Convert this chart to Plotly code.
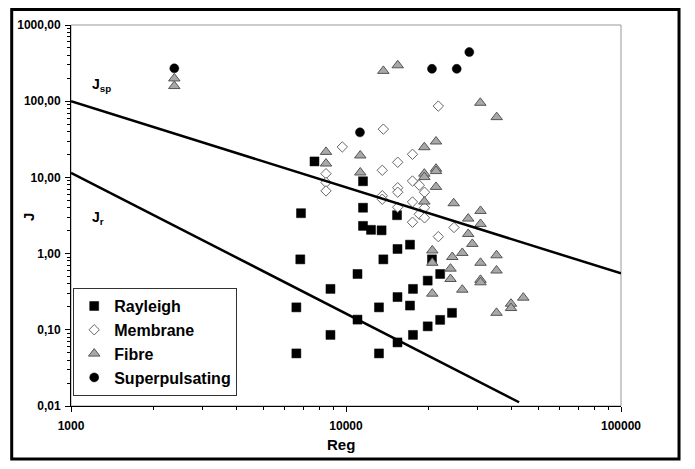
import plotly.graph_objects as go

# ---------------- data ----------------
rayleigh_x = [7680, 11530, 6860, 11530, 11530, 12330, 13470, 15330, 6820, 8780, 6600, 8780, 6600,
              13670, 11010, 13180, 11010, 13180, 15390, 17090, 15390, 17090, 17520, 19820, 20540,
              22000, 15390, 17520, 19820, 22000, 24290]
rayleigh_y = [16.2, 8.9, 3.39, 4.0, 2.31, 2.05, 2.02, 3.19, 0.84, 0.344, 0.197, 0.0857, 0.049,
              0.84, 0.54, 0.197, 0.136, 0.049, 1.15, 1.31, 0.269, 0.208, 0.344, 0.442, 0.84,
              0.54, 0.0683, 0.0857, 0.111, 0.135, 0.167]

membrane_x = [8459, 8459, 8459, 9694, 13670, 21660, 13550, 15420, 17450, 15420, 15420, 13550,
              13550, 17450, 18470, 19300, 17450, 19300, 18470, 19300, 17450, 24700, 21660, 15420]
membrane_y = [11.2, 8.57, 6.65, 25.1, 43.0, 86.3, 12.4, 15.8, 20.1, 7.32, 6.39, 5.75,
              5.17, 8.97, 7.90, 6.39, 4.76, 4.0, 3.28, 2.95, 2.58, 2.20, 1.67, 4.06]

fibre_x = [2375, 2375, 8459, 8459, 13670, 15420, 30790, 35320, 11270, 11270, 19270, 21250,
           19270, 19270, 21250, 21250, 21250, 19270, 24640, 27820, 30840, 30840, 27820, 28800,
           20600, 20600, 24350, 26480, 35270, 30840, 23990, 35270, 23990, 30840, 30840, 26480,
           20600, 44130, 39810, 39810, 35270]
fibre_y = [199, 158, 21.6, 15.2, 250, 296, 95.3, 61.8, 19.4, 11.6, 24.9, 29.6,
           11.2, 10.1, 13.0, 12.1, 7.5, 4.82, 4.58, 2.88, 3.63, 2.45, 1.81, 1.34,
           1.10, 0.757, 0.902, 1.02, 0.95, 0.757, 0.635, 0.60, 0.464, 0.453, 0.42, 0.336,
           0.298, 0.264, 0.22, 0.193, 0.167]

super_x = [2375, 11240, 20540, 25270, 28080]
super_y = [270, 39.0, 266, 266, 441]

jsp_x = [1000, 100000]
jsp_y = [100, 0.55]
jr_x = [1000, 42600]
jr_y = [11.5, 0.0112]

x_ticks = [1000, 10000, 100000]
x_ticktext = ["1000", "10000", "100000"]
y_ticks = [0.01, 0.1, 1, 10, 100, 1000]
y_ticktext = ["0,01", "0,10", "1,00", "10,00", "100,00", "1000,00"]

FONT = "Liberation Sans, Arial, sans-serif"

fig = go.Figure()

fig.add_trace(go.Scatter(x=rayleigh_x, y=rayleigh_y, mode="markers", name="Rayleigh",
                         marker=dict(symbol="square", size=9, color="black",
                                     line=dict(color="black", width=0.5))))
fig.add_trace(go.Scatter(x=membrane_x, y=membrane_y, mode="markers", name="Membrane",
                         marker=dict(symbol="diamond", size=8, color="white",
                                     line=dict(color="#666666", width=1))))
fig.add_trace(go.Scatter(x=fibre_x, y=fibre_y, mode="markers", name="Fibre",
                         marker=dict(symbol="triangle-up", size=10, color="#a8a8a8",
                                     line=dict(color="#555555", width=1))))
fig.add_trace(go.Scatter(x=super_x, y=super_y, mode="markers", name="Superpulsating",
                         marker=dict(symbol="circle", size=9, color="black",
                                     line=dict(color="black", width=0.5))))

fig.add_trace(go.Scatter(x=jsp_x, y=jsp_y, mode="lines", showlegend=False,
                         line=dict(color="black", width=2.5), hoverinfo="skip"))
fig.add_trace(go.Scatter(x=jr_x, y=jr_y, mode="lines", showlegend=False,
                         line=dict(color="black", width=2.5), hoverinfo="skip"))

minor_x = [m * 10 ** d for d in (3, 4) for m in range(2, 10)]
minor_y = [m * 10 ** d for d in (-2, -1, 0, 1, 2) for m in range(2, 10)]

fig.update_xaxes(type="log", range=[3, 5], tickvals=x_ticks, ticktext=x_ticktext,
                 automargin=False,
                 showgrid=False, zeroline=False, showline=True, linecolor="black", linewidth=1,
                 ticks="outside", ticklen=5, tickcolor="black",
                 minor=dict(tickvals=minor_x, ticks="outside", ticklen=3, tickcolor="black", showgrid=False),
                 tickfont=dict(family=FONT, size=12, color="black", weight="bold"),
                 ticklabelstandoff=4)
fig.update_yaxes(type="log", range=[-2, 3], tickvals=y_ticks, ticktext=y_ticktext,
                 automargin=False,
                 showgrid=False, zeroline=False, showline=True, linecolor="black", linewidth=1,
                 ticks="outside", ticklen=5, tickcolor="black",
                 minor=dict(tickvals=minor_y, ticks="outside", ticklen=3, tickcolor="black", showgrid=False),
                 tickfont=dict(family=FONT, size=12, color="black", weight="bold"),
                 ticklabelstandoff=2)

fig.update_layout(
    width=687, height=453,
    margin=dict(l=63, r=74, t=17, b=55),
    paper_bgcolor="white", plot_bgcolor="white",
    font=dict(family=FONT, color="black"),
    legend=dict(x=0.004, y=0.026, xanchor="left", yanchor="bottom",
                bgcolor="white", bordercolor="#333333", borderwidth=1,
                font=dict(family=FONT, size=16, color="black", weight="bold"),
                tracegroupgap=0),
    shapes=[
        dict(type="rect", xref="paper", yref="paper", x0=0, x1=1, y0=0, y1=1,
             line=dict(color="#999999", width=1), layer="below"),
        dict(type="rect", xref="paper", yref="paper", x0=-0.1078, x1=1.1055, y0=-0.139, y1=1.0407,
             line=dict(color="black", width=3)),
    ],
    annotations=[
        dict(x=-0.078, y=0.496, xref="paper", yref="paper", text="J", showarrow=False,
             textangle=-90, xanchor="center", yanchor="middle",
             font=dict(family=FONT, size=15, color="black", weight="bold")),
        dict(x=0.491, y=-0.102, xref="paper", yref="paper", text="Reg", showarrow=False,
             xanchor="center", yanchor="middle",
             font=dict(family=FONT, size=15, color="black", weight="bold")),
        dict(x=3.069, y=2.211, xref="x", yref="y", text="J<sub>sp</sub>", showarrow=False,
             xanchor="left", yanchor="middle",
             font=dict(family=FONT, size=14, color="black", weight="bold")),
        dict(x=3.069, y=0.464, xref="x", yref="y", text="J<sub>r</sub>", showarrow=False,
             xanchor="left", yanchor="middle",
             font=dict(family=FONT, size=14, color="black", weight="bold")),
    ],
)

fig.write_html("out.html")
